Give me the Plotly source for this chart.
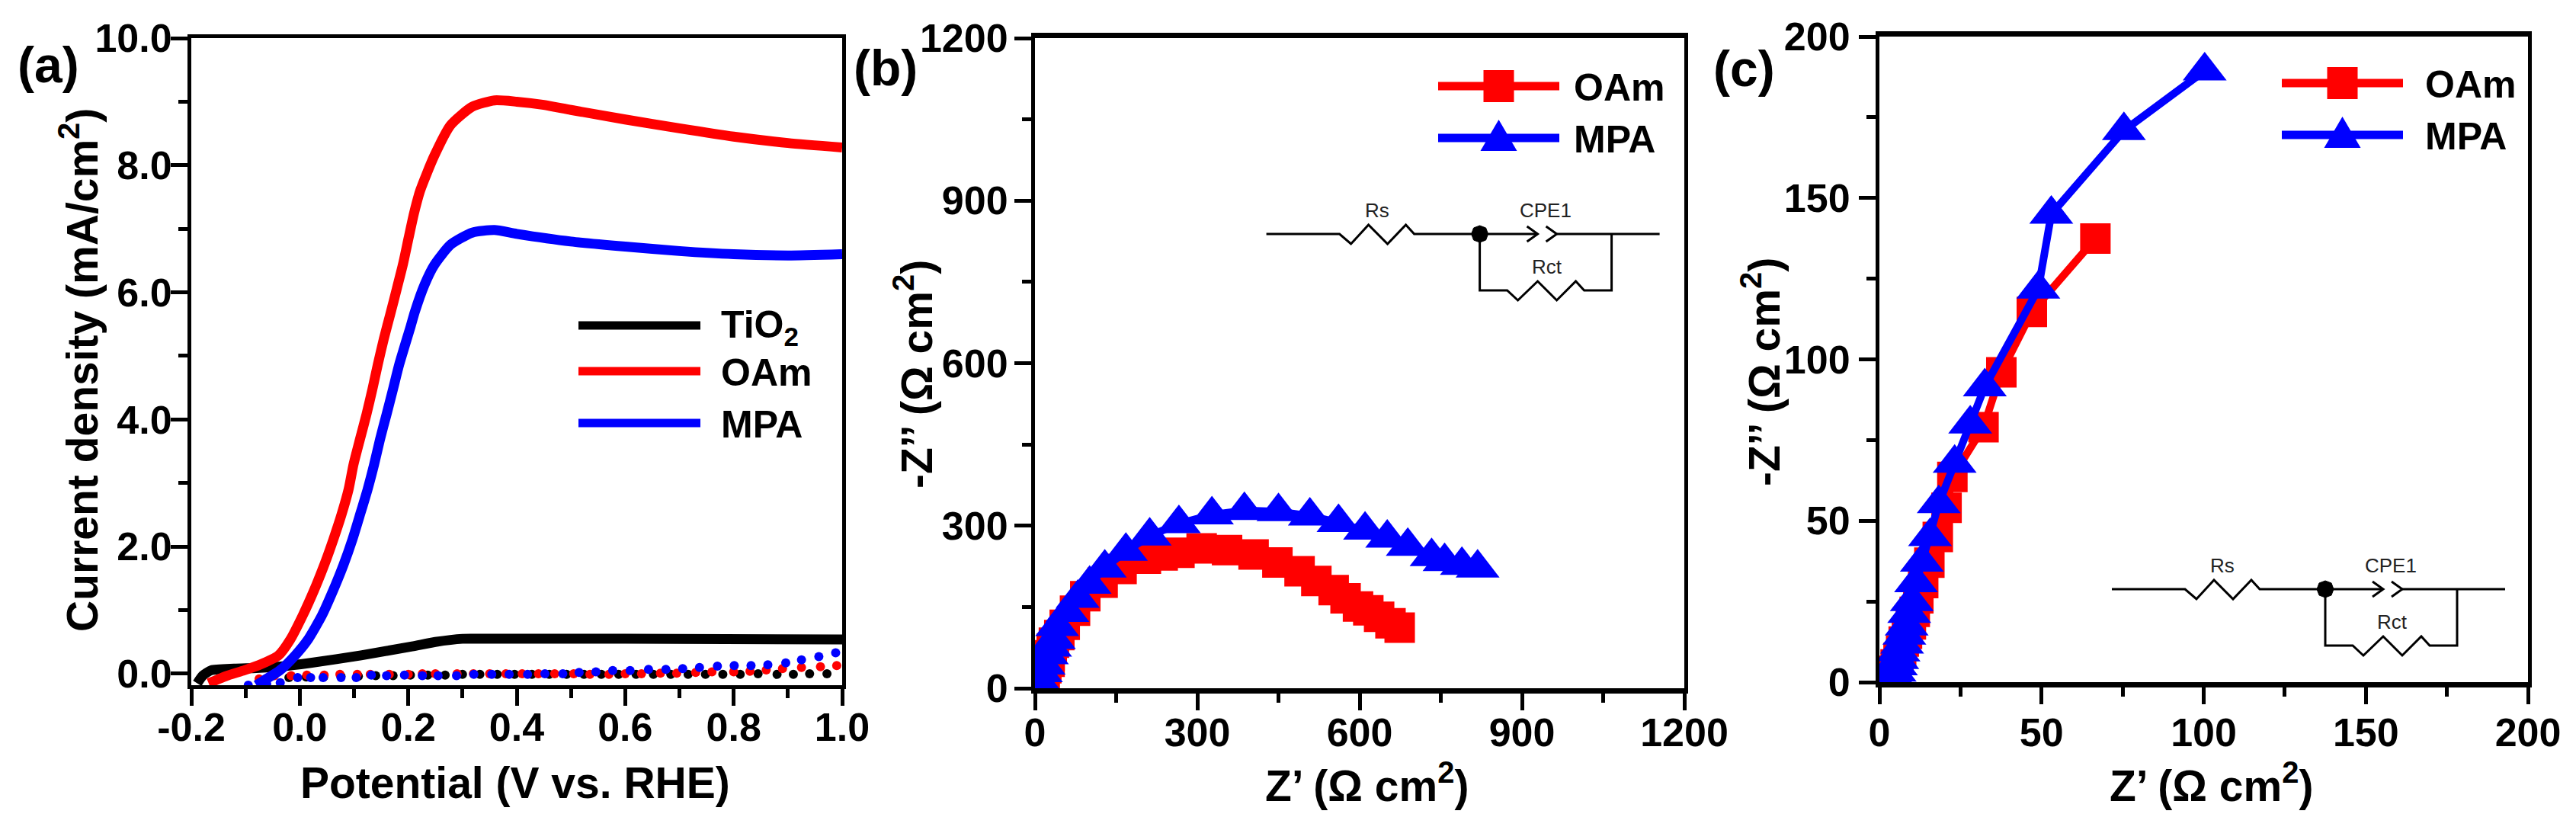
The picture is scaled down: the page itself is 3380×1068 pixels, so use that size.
import plotly.graph_objects as go

W, H = 3380, 1068
FONT = "Liberation Sans"
RED, BLUE, BLACK = "#ff0000", "#0000ff", "#000000"

# ---- panel (a)
tio2_x = [-0.189, -0.179, -0.163, -0.121, -0.08, -0.04, 0.02, 0.113, 0.207, 0.25, 0.3, 0.35, 0.6, 1.0]
tio2_y = [-0.15, -0.03, 0.055, 0.08, 0.09, 0.11, 0.17, 0.29, 0.43, 0.50, 0.55, 0.55, 0.55, 0.54]
oam_x = [-0.168, -0.137, -0.102, -0.074, -0.039, -0.018, 0.0056, 0.0267, 0.045, 0.0618, 0.0768, 0.09, 0.099, 0.111,
         0.123, 0.134, 0.144, 0.155, 0.167, 0.179, 0.1905, 0.2005, 0.2105, 0.222, 0.2476, 0.278, 0.318, 0.359,
         0.40, 0.45, 0.50, 0.60, 0.70, 0.80, 0.90, 1.0]
oam_y = [-0.15, -0.04, 0.055, 0.14, 0.29, 0.53, 0.92, 1.32, 1.71, 2.11, 2.50, 2.90, 3.29, 3.69,
         4.08, 4.48, 4.87, 5.27, 5.66, 6.06, 6.45, 6.85, 7.24, 7.6, 8.14, 8.63, 8.92, 9.02,
         9.0, 8.95, 8.87, 8.72, 8.58, 8.45, 8.35, 8.28]
mpa_x = [-0.08, -0.065, -0.0365, -0.0084, 0.0145, 0.041, 0.062, 0.0805, 0.097, 0.111, 0.125, 0.137, 0.148, 0.16,
         0.172, 0.1835, 0.2046, 0.212, 0.23, 0.248, 0.278, 0.318, 0.359, 0.40, 0.50, 0.60, 0.70, 0.80, 0.90, 1.0]
mpa_y = [-0.18, -0.1, 0.055, 0.29, 0.53, 0.92, 1.32, 1.71, 2.11, 2.50, 2.90, 3.29, 3.69, 4.08,
         4.48, 4.87, 5.47, 5.69, 6.12, 6.43, 6.75, 6.94, 6.98, 6.92, 6.8, 6.72, 6.65, 6.6, 6.58, 6.6]
dark_mpa_x = [-0.095, -0.061, -0.036, -0.004, 0.02, 0.043, 0.076, 0.104, 0.132, 0.16, 0.193, 0.226, 0.255, 0.289,
              0.321, 0.354, 0.386, 0.42, 0.452, 0.485, 0.515, 0.546, 0.577, 0.609, 0.643, 0.675, 0.706, 0.737,
              0.77, 0.801, 0.832, 0.863, 0.896, 0.925, 0.957, 0.988]
dark_mpa_y = [-0.18, -0.16, -0.14, -0.06, -0.06, -0.06, -0.06, -0.06, -0.02, -0.03, -0.02, -0.03, -0.03, -0.03,
              -0.01, -0.01, -0.01, -0.01, 0.0, 0.0, 0.02, 0.03, 0.05, 0.05, 0.07, 0.07, 0.08, 0.10,
              0.12, 0.13, 0.13, 0.14, 0.17, 0.22, 0.27, 0.33]
dark_oam_x = [-0.075, -0.047, -0.016, 0.013, 0.045, 0.074, 0.106, 0.13, 0.165, 0.2, 0.226, 0.25, 0.29, 0.32, 0.35,
              0.38, 0.41, 0.44, 0.47, 0.505, 0.535, 0.57, 0.60, 0.63, 0.665, 0.695, 0.73, 0.76, 0.80, 0.83, 0.86,
              0.89, 0.925, 0.96, 0.99]
dark_oam_y = [-0.08, -0.03, -0.03, -0.02, -0.02, -0.01, -0.01, -0.01, -0.01, -0.01, 0.0, 0.0, 0.0, 0.0, 0.0,
              0.0, 0.0, 0.0, 0.0, 0.0, -0.01, -0.01, 0.0, 0.0, 0.01, 0.01, 0.02, 0.03, 0.03, 0.04, 0.06,
              0.08, 0.10, 0.11, 0.13]
dark_tio2_x = [-0.02, 0.012, 0.044, 0.076, 0.108, 0.14, 0.172, 0.204, 0.236, 0.268, 0.30, 0.332, 0.364, 0.396, 0.428,
               0.46, 0.492, 0.524, 0.556, 0.588, 0.62, 0.652, 0.684, 0.716, 0.748, 0.78, 0.812, 0.845, 0.88, 0.91,
               0.94, 0.972]
dark_tio2_y = [-0.06, -0.05, -0.05, -0.04, -0.04, -0.03, -0.03, -0.02, -0.02, -0.02, -0.01, -0.01, -0.01, -0.01, -0.01,
               -0.01, -0.01, -0.01, -0.01, -0.01, -0.01, -0.01, -0.01, -0.01, -0.01, -0.01, -0.01, 0.0, -0.01, -0.01,
               0.0, 0.0]

# ---- panel (b)
b_oam_x = [3, 13, 18, 21, 27, 27, 31, 35, 45, 55, 74, 93, 125, 160, 205, 236, 267, 308, 355, 404, 448, 489, 520, 552,
           574, 597, 616, 636, 657, 674]
b_oam_y = [5, 18, 26, 37, 49, 61, 73, 84, 98, 117, 143, 170, 195, 220, 239, 245, 250, 258, 255, 247, 232, 216, 198,
           181, 166, 151, 144, 132, 120, 112]
b_mpa_x = [6, 11, 16, 22, 28, 35, 41, 60, 79, 101, 129, 168, 212, 266, 327, 387, 450, 508, 561, 610, 651, 689, 733,
           757, 789, 818]
b_mpa_y = [15, 29, 43, 62, 76, 90, 114, 140, 166, 192, 222, 253, 281, 304, 320, 328, 326, 318, 306, 292, 277, 262,
           243, 234, 227, 222]

# ---- panel (c)
c_oam_x = [3.9, 4.6, 5.0, 5.9, 6.7, 7.5, 8.5, 9.7, 10.9, 12.0, 13.5, 15.4, 18.0, 20.7, 22.5, 32.1, 37.6, 47.0, 66.6]
c_oam_y = [1.6, 3.5, 5.5, 7.5, 9.8, 12.6, 15.0, 17.9, 21.8, 26.0, 30.7, 37.0, 45.0, 54.0, 63.6, 79.0, 96.0, 114.7, 137.4]
c_mpa_x = [4.3, 4.7, 5.1, 5.5, 5.9, 7.0, 7.7, 8.4, 9.2, 10.0, 11.3, 13.1, 15.6, 18.3, 23.2, 28.0, 32.5, 49.0, 53.0,
           75.4, 100.3]
c_mpa_y = [1.6, 3.1, 5.1, 7.0, 9.4, 11.8, 14.6, 17.4, 21.3, 25.0, 30.8, 37.2, 45.1, 55.3, 67.8, 80.0, 91.5, 121.8,
           145.0, 170.9, 189.4]

# ---- text
a_xticks = [-0.2, 0.0, 0.2, 0.4, 0.6, 0.8, 1.0]
a_xlabels = ["-0.2", "0.0", "0.2", "0.4", "0.6", "0.8", "1.0"]
a_yticks = [0, 2, 4, 6, 8, 10]
a_ylabels = ["0.0", "2.0", "4.0", "6.0", "8.0", "10.0"]
b_ticks = [0, 300, 600, 900, 1200]
c_ticks = [0, 50, 100, 150, 200]

# panel frames in page pixels: left, right, top, bottom
PA = (251, 1105, 50, 899)
PB = (1358, 2210, 50, 903)
PC = (2466, 3317, 48, 895)


def px(x):
    return x / W


def py(y):
    return 1 - y / H


fig = go.Figure()
TICKFONT = dict(family=FONT, size=52, color=BLACK, weight="bold")


def axis(dom, rng, ticks, labels, minor, label_standoff, lw=5):
    return dict(domain=dom, range=rng, tickmode="array", tickvals=ticks, ticktext=labels,
                ticks="outside", ticklen=22, tickwidth=5, tickcolor=BLACK, ticklabelstandoff=label_standoff,
                minor=dict(tickmode="array", tickvals=minor, ticks="outside", ticklen=12, tickwidth=5, tickcolor=BLACK),
                showline=True, linewidth=lw, linecolor=BLACK, mirror=True, showgrid=False, zeroline=False,
                tickfont=TICKFONT, automargin=False)


fig.update_layout(
    xaxis=axis([px(PA[0]), px(PA[1])], [-0.2, 1.0], a_xticks, a_xlabels, [-0.1, 0.1, 0.3, 0.5, 0.7, 0.9], -16),
    yaxis=axis([py(PA[3]), py(PA[2])], [-0.18, 10], a_yticks, a_ylabels, [1, 3, 5, 7, 9], -12),
    xaxis2=axis([px(PB[0]), px(PB[1])], [0, 1200], b_ticks, [str(t) for t in b_ticks], [150, 450, 750, 1050], -15, lw=7),
    yaxis2=axis([py(PB[3]), py(PB[2])], [0, 1200], b_ticks, [str(t) for t in b_ticks], [150, 450, 750, 1050], -2),
    xaxis3=axis([px(PC[0]), px(PC[1])], [0, 200], c_ticks, [str(t) for t in c_ticks], [25, 75, 125, 175], -7, lw=7),
    yaxis3=axis([py(PC[3]), py(PC[2])], [0, 200], c_ticks, [str(t) for t in c_ticks], [25, 75, 125, 175], 1),
)
fig.layout.xaxis2.anchor = "y2"
fig.layout.yaxis2.anchor = "x2"
fig.layout.xaxis3.anchor = "y3"
fig.layout.yaxis3.anchor = "x3"


def dots(x, y, c, name):
    fig.add_trace(go.Scatter(x=x, y=y, mode="markers", name=name, marker=dict(color=c, size=12), xaxis="x", yaxis="y"))


dots(dark_tio2_x, dark_tio2_y, BLACK, "TiO2 dark")
dots(dark_oam_x, dark_oam_y, RED, "OAm dark")
dots(dark_mpa_x, dark_mpa_y, BLUE, "MPA dark")
for x, y, c, n in [(tio2_x, tio2_y, BLACK, "TiO2"), (oam_x, oam_y, RED, "OAm"), (mpa_x, mpa_y, BLUE, "MPA")]:
    fig.add_trace(go.Scatter(x=x, y=y, mode="lines", name=n, line=dict(color=c, width=13, shape="spline", smoothing=0.6),
                             xaxis="x", yaxis="y"))

for ax, ox, oy, mx, my in [("2", b_oam_x, b_oam_y, b_mpa_x, b_mpa_y), ("3", c_oam_x, c_oam_y, c_mpa_x, c_mpa_y)]:
    fig.add_trace(go.Scatter(x=ox, y=oy, mode="lines+markers", name="OAm", line=dict(color=RED, width=10),
                             marker=dict(symbol="square", color=RED, size=40), xaxis="x" + ax, yaxis="y" + ax))
    fig.add_trace(go.Scatter(x=mx, y=my, mode="lines+markers", name="MPA", line=dict(color=BLUE, width=10),
                             marker=dict(symbol="triangle-up", color=BLUE, size=50), xaxis="x" + ax, yaxis="y" + ax))

shapes, notes = [], []


def text(x, y, s, size=50, bold=True, color=BLACK, anchor="left", angle=0):
    notes.append(dict(x=px(x), y=py(y), xref="paper", yref="paper", text=s, showarrow=False, xanchor=anchor,
                      yanchor="middle", textangle=angle,
                      font=dict(family=FONT, size=size, color=color, weight="bold" if bold else "normal")))


def path(points, color=BLACK, width=3, fill=None):
    d = "M" + " L".join(f"{px(a):.6f},{py(b):.6f}" for a, b in points)
    if fill:
        d += " Z"
    shapes.append(dict(type="path", xref="paper", yref="paper", path=d, fillcolor=fill or "rgba(0,0,0,0)",
                       line=dict(color=color, width=width), layer="above"))


def legend_row(x0, x1, y, tx, color, label, marker=None):
    path([(x0, y), (x1, y)], color=color, width=11)
    m = (x0 + x1) / 2
    if marker == "square":
        path([(m - 20, y - 21), (m + 20, y - 21), (m + 20, y + 21), (m - 20, y + 21)], color=color, width=0, fill=color)
    if marker == "triangle":
        path([(m - 24, y + 17), (m + 24, y + 17), (m, y - 24)], color=color, width=0, fill=color)
    text(tx, y + 2, label)


legend_row(759, 919, 427, 944, BLACK, "TiO<sub>2</sub>")
legend_row(759, 919, 487, 944, RED, "OAm")
legend_row(759, 919, 555, 944, BLUE, "MPA")
legend_row(1887, 2046, 113, 2063, RED, "OAm", "square")
legend_row(1887, 2046, 181, 2063, BLUE, "MPA", "triangle")
legend_row(2994, 3153, 109, 3180, RED, "OAm", "square")
legend_row(2994, 3153, 177, 3180, BLUE, "MPA", "triangle")


def circuit(cx, cy):
    def P(pts):
        return [(cx + a, cy + b) for a, b in pts]

    path(P([(-280, 0), (-184, 0), (-169, 13), (-146, -12), (-121, 13), (-97, -12), (-86, 0), (76, 0)]))
    path(P([(62, -10), (76, 0), (62, 10)]))
    path(P([(87, -10), (101, 0), (87, 10)]))
    path(P([(101, 0), (236, 0)]))
    path(P([(0, 0), (0, 74), (36, 74), (50, 87), (76, 62), (101, 87), (126, 62), (137, 74), (173, 74), (173, 0)]))
    path(P([(-11, 0), (-8, -8), (0, -11), (8, -8), (11, 0), (8, 8), (0, 11), (-8, 8)]), width=1, fill=BLACK)
    text(cx - 135, cy - 31, "Rs", size=26, bold=False, color="#222222", anchor="center")
    text(cx + 86, cy - 31, "CPE1", size=26, bold=False, color="#222222", anchor="center")
    text(cx + 88, cy + 43, "Rct", size=26, bold=False, color="#222222", anchor="center")


circuit(1941.6, 307)
circuit(3051, 773)

text(63, 85, "(a)", size=66, anchor="center")
text(1162, 89, "(b)", size=66, anchor="center")
text(2288, 90, "(c)", size=66, anchor="center")

text(676, 1027, "Potential (V vs. RHE)", size=57, anchor="center")
text(1793, 1027, "Z’ (Ω cm<sup>2</sup>)", size=57, anchor="center")
text(2901, 1027, "Z’ (Ω cm<sup>2</sup>)", size=57, anchor="center")
text(104, 486, "Current density (mA/cm<sup>2</sup>)", size=57, anchor="center", angle=-90)
text(1199, 491, "-Z’’ (Ω cm<sup>2</sup>)", size=57, anchor="center", angle=-90)
text(2311, 488, "-Z’’ (Ω cm<sup>2</sup>)", size=57, anchor="center", angle=-90)

fig.update_layout(width=W, height=H, autosize=False, margin=dict(l=0, r=0, t=0, b=0), showlegend=False,
                  paper_bgcolor="white", plot_bgcolor="white", shapes=shapes, annotations=notes)
fig.write_html("out.html", post_script="document.body.style.margin='0';", config={"displayModeBar": False})
